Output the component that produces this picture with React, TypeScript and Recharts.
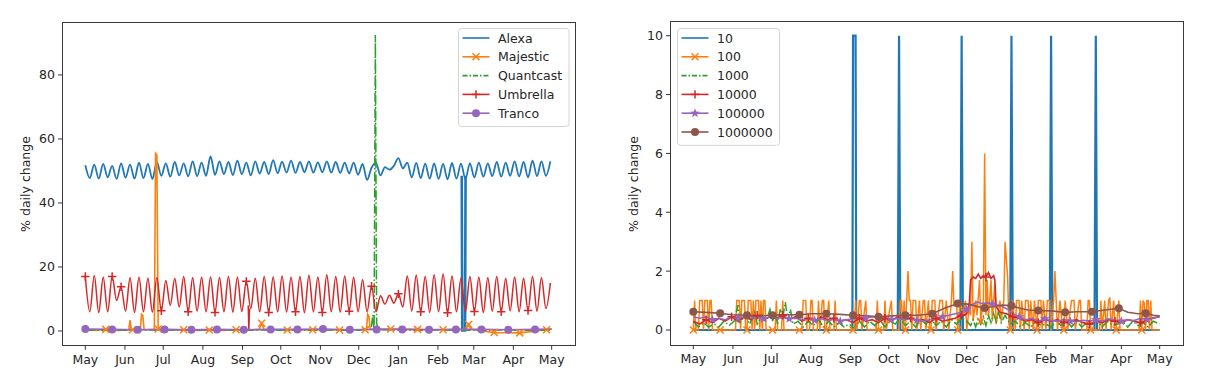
import React from 'react';
import { LineChart, Line, XAxis, YAxis } from 'recharts';

type Pair = [number, number];
type Pt = { day: number; v: number };
type Shape = 'x' | '+' | 'o' | '*';

// days counted from 1 May
const MONTH_DAYS = [0, 31, 61, 92, 123, 153, 184, 214, 245, 276, 304, 335, 365];
const MONTH_NAMES = ['May', 'Jun', 'Jul', 'Aug', 'Sep', 'Oct', 'Nov', 'Dec', 'Jan', 'Feb', 'Mar', 'Apr', 'May'];

const LEFT_TICKS = [0, 20, 40, 60, 80];
const RIGHT_TICKS = [0, 2, 4, 6, 8, 10];

const LEFT_NAMES = ['Alexa', 'Majestic', 'Quantcast', 'Umbrella', 'Tranco'];
const RIGHT_NAMES = ['10', '100', '1000', '10000', '100000', '1000000'];

// half-week sampling of the weekly Alexa / Umbrella cycles
const HALF_WEEK_DAYS = [
  0, 3.5, 7, 10.5, 14, 17.5, 21, 24.5, 28, 31.5, 35, 38.5, 42, 45.5, 49,
  52.5, 56, 59.5, 63, 66.5, 70, 73.5, 77, 80.5, 84, 87.5, 91, 94.5, 98, 101.5,
  105, 108.5, 112, 115.5, 119, 122.5, 126, 129.5, 133, 136.5, 140, 143.5, 147, 150.5, 154,
  157.5, 161, 164.5, 168, 171.5, 175, 178.5, 182, 185.5, 189, 192.5, 196, 199.5, 203, 206.5,
  210, 213.5, 217, 220.5, 224, 227.5, 231, 234.5, 238, 241.5, 245, 248.5, 252, 255.5, 259,
  262.5, 266, 269.5, 273, 276.5, 280, 283.5, 287, 290.5, 294, 297.5, 301, 304.5, 308, 311.5,
  315, 318.5, 322, 325.5, 329, 332.5, 336, 339.5, 343, 346.5, 350, 353.5, 357, 360.5, 364,
];

const ALEXA = [
  51.8, 47.8, 52, 47.6, 52.2, 48, 51.6, 47.5, 52.4, 47.9, 52, 47.6, 52.6, 47.8, 52.2,
  47.5, 52.8, 48.5, 52.4, 48.2, 52.8, 48.6, 52.4, 48.3, 53, 48.4, 52.6, 48.5, 54.6, 48.8,
  53, 49, 52.8, 48.7, 53.2, 49, 52.6, 48.6, 53, 49.2, 52.8, 49, 53.4, 49.3, 52.9,
  49.5, 53.2, 49.4, 52.8, 49.6, 53, 49.5, 52.7, 49.6, 53, 49.5, 52.8, 49.4, 52.6, 49.2,
  52.6, 48.8, 52.2, 47.2, 51, 52.5, 48.6, 51.2, 50.4, 51.6, 54, 50.8, 52.6, 48, 52.5,
  47.8, 52.3, 47.6, 52.4, 47.5, 52.2, 47.4, 52.5, 47.6, 52.3, 47.5, 52.4, 48, 52.6, 48.2,
  52.4, 48.4, 52.8, 48.2, 52.6, 48.5, 53, 48.3, 52.8, 48, 53.2, 48.4, 53, 48.5, 53,
];

const UMBRELLA = [
  17, 6, 17.3, 5.8, 16.8, 6, 17, 9.5, 13.8, 6.2, 16.6, 5.8, 16.8, 6, 16.5,
  5.9, 16.6, 6.3, 15.8, 8, 16.5, 7.5, 17, 6, 16.6, 6.2, 16.8, 6, 16.9, 5.8,
  16.7, 6, 17, 5.9, 16.8, 6.1, 15.5, 7, 16.5, 6, 17, 5.8, 16.9, 6, 17.2,
  5.9, 16.8, 6, 17, 5.7, 17.4, 6, 16.9, 5.8, 17.6, 6, 17, 5.9, 17.2, 6.2,
  16.8, 6, 16, 6, 14, 6, 11, 8.4, 11.2, 8.7, 11.6, 7.5, 17.2, 6.2, 17.5,
  6, 17, 5.8, 17.6, 6, 17.8, 5.7, 17.2, 6, 16.5, 6, 17, 6.1, 16.8, 5.8,
  16.6, 6.2, 17, 6, 16.4, 6.3, 16.9, 6, 16.5, 6.4, 17, 6.2, 16.6, 7, 15,
];

// short outages drawn on top of the weekly cycles
const ALEXA_OUTAGE: Pair[] = [[294.6, 48.5], [295, 0.2], [297.2, 0.2], [297.6, 48.5]];
const UMBRELLA_OUTAGE: Pair[] = [[127.5, 8], [128, 0.3], [128.5, 7]];

const MAJESTIC: Pair[] = [
  [0, 0.4], [8, 0.2], [16, 0.5], [25, 0.2], [34, 0.3], [35, 3.4], [36, 0.5], [37, 0.4],
  [43, 0.3], [44, 5.2], [45, 4.8], [46, 0.4], [54, 0.5], [55, 55.5], [56, 55], [57, 0.6],
  [66, 0.3], [77, 0.4], [88, 0.2], [97, 0.3], [108, 0.2], [118, 0.4], [130, 0.3], [136, 0.5],
  [138, 2.4], [140, 0.4], [158, 0.3], [178, 0.4], [199, 0.3], [214, 0.4], [219, 0.4], [220, 0.5],
  [221, 5.2], [222, 4.5], [223, 0.5], [239, 0.6], [260, 0.5], [280, 0.4], [298, 0.5], [300, 2],
  [302, 0.5], [320, -0.5], [340, -0.6], [361, 0.4], [365, 0.6],
];
const MAJESTIC_MARKS = [16, 37, 57, 77, 97, 118, 138, 158, 178, 199, 219, 239, 260, 280, 300, 320, 340, 361];

const QUANTCAST: Pair[] = [
  [0, 0.3], [20, 0.2], [45, 0.3], [70, 0.2], [95, 0.4], [120, 0.2], [140, 0.3], [165, 0.2],
  [190, 0.3], [215, 0.2], [224, 1.5], [225, 5], [226, 0.4], [227, 92.5], [228, 2.5], [229, 0.4],
  [250, 0.2], [275, 0.3], [300, 0.2], [325, 0.3], [345, 0.2], [365, 0.3],
];

const UMBRELLA_MARKS = [0, 21, 28, 59.5, 80.5, 101.5, 126, 143.5, 164.5, 185.5, 206.5, 224, 245, 262.5, 283.5, 304.5, 325.5, 346.5];

const TRANCO: Pair[] = [
  [0, 0.6], [21, 0.5], [41, 0.4], [62, 0.5], [83, 0.4], [103, 0.5], [124, 0.4], [145, 0.5],
  [166, 0.5], [186, 0.6], [207, 0.4], [228, 0.5], [248, 0.5], [269, 0.4], [290, 0.5], [310, 0.5],
  [331, 0.4], [352, 0.5], [365, 0.6],
];
const TRANCO_MARKS = [0, 21, 41, 62, 83, 103, 124, 145, 166, 186, 207, 228, 248, 269, 290, 310, 331, 352];

// right panel: list sizes
const TOP10: Pair[] = [
  [0, 0], [124.5, 0], [125, 10], [127, 10], [127.5, 0], [160, 0], [161, 10], [162, 0],
  [209, 0], [210, 10], [211, 0], [248, 0], [249, 10], [250, 0], [279, 0], [280, 10], [281, 0],
  [314, 0], [315, 10], [316, 0], [365, 0],
];

const TOP100: Pair[] = [
  [0, 0], [1, 1], [2, 0], [4, 0], [5, 1], [7, 1], [8, 0], [9, 1], [11, 1], [12, 0], [13, 1], [14, 1], [15, 0],
  [21, 0], [33, 0], [34, 1], [36, 1], [37, 0], [38, 1], [40, 1], [41, 0], [42, 0], [43, 1], [45, 1], [46, 0],
  [47, 1], [48, 0], [49, 1], [51, 1], [52, 0], [53, 1], [54, 0], [55, 1], [56, 1], [57, 0],
  [62, 0], [64, 0], [65, 1], [66, 0], [69, 0], [70, 1], [71, 0],
  [83, 0], [85, 0], [86, 1], [88, 1], [89, 0], [91, 0], [92, 1], [93, 1], [94, 0], [97, 0], [98, 1], [99, 0],
  [101, 1], [102, 1], [103, 0], [104, 0], [106, 1], [107, 0], [110, 0], [111, 1], [112, 0], [115, 0],
  [125, 0], [126, 0], [127, 1], [128, 0], [130, 1], [131, 1], [132, 0], [135, 1], [136, 0],
  [143, 0], [144, 1], [145, 0], [149, 0], [150, 1], [151, 0], [155, 1], [156, 0],
  [161, 0], [162, 1], [163, 1], [164, 0], [165, 1], [166, 0], [167, 1], [168, 2], [169, 1], [170, 1], [171, 0],
  [172, 1], [174, 1], [175, 0], [177, 1], [178, 0], [180, 1], [181, 1], [182, 0], [184, 1], [185, 0], [186, 0],
  [187, 1], [189, 1], [190, 0], [193, 1], [195, 1], [196, 0], [198, 1], [200, 0], [202, 1], [203, 2], [204, 0.8],
  [206, 1], [207, 0], [209, 1], [211, 0.5], [213, 1], [214, 0], [216, 0.8], [217, 0.5], [218, 3], [219, 0.3],
  [221, 1], [222, 0.5], [224, 1.7], [225, 0.3], [227, 1], [228, 6], [229, 0.5], [230, 1.7], [231, 0.4],
  [233, 1.7], [234, 0.3], [236, 1.6], [237, 0.2], [240, 1], [241, 0.3], [243, 1], [244, 3], [246, 1.8], [247, 0.2],
  [248, 0], [250, 1], [252, 0], [253, 1], [255, 1], [256, 0], [257, 1], [259, 0], [260, 1], [262, 1], [263, 0],
  [264, 1], [266, 0], [267, 1], [269, 0], [270, 1], [272, 1], [273, 0], [274, 1], [276, 0], [277, 1], [279, 1],
  [280, 0], [282, 1], [283, 2], [284, 1], [285, 0], [287, 1], [289, 0], [290, 0], [291, 1], [293, 0], [296, 1],
  [298, 1], [299, 0], [302, 1], [303, 1], [304, 0], [308, 0], [309, 1], [310, 1], [311, 0], [314, 0],
  [318, 0], [319, 1], [320, 0], [322, 1], [323, 0], [325, 1], [326, 1.1], [327, 0], [329, 1], [330, 0], [331, 0],
  [333, 1], [334, 0], [336, 0], [349, 0], [350, 1], [351, 0], [352, 1], [353, 0.9], [354, 0], [355, 1], [356, 1],
  [357, 0], [358, 1], [359, 0], [365, 0],
];
const TOP100_MARKS = [0, 21, 42, 62, 83, 104, 125, 145, 166, 186, 207, 225, 248, 269, 290, 311, 331, 351];

const TOP1000: Pair[] = [
  [0, 0.3], [4, 0.1], [8, 0.25], [12, 0.1], [16, 0.2], [20, 0.1], [24, 0.3], [28, 0.15], [32, 0.3], [35, 0.85],
  [36, 0.2], [40, 0.5], [44, 0.2], [48, 0.6], [50, 0.2], [54, 0.5], [57, 0.3], [60, 0.7], [62, 0.3], [64, 0.6],
  [66, 0.2], [68, 0.7], [70, 0.4], [72, 0.95], [74, 0.3], [76, 0.7], [78, 0.2], [82, 0.3], [86, 0.1], [90, 0.3],
  [94, 0.15], [98, 0.35], [102, 0.1], [106, 0.3], [110, 0.1], [114, 0.25], [118, 0.1], [122, 0.2], [126, 0.05],
  [130, 0.3], [134, 0.1], [138, 0.3], [142, 0.15], [146, 0.35], [150, 0.1], [154, 0.3], [158, 0.2], [162, 0.4],
  [166, 0.15], [170, 0.3], [174, 0.1], [178, 0.35], [182, 0.2], [186, 0.4], [190, 0.15], [194, 0.3], [198, 0.1],
  [202, 0.35], [206, 0.2], [210, 0.4], [214, 0.3], [217, 0.15], [219, 0.35], [221, 0.1], [223, 0.4], [225, 0.2],
  [227, 0.45], [229, 0.15], [231, 0.5], [233, 0.25], [235, 0.55], [237, 0.3], [239, 0.6], [241, 0.25], [244, 0.5],
  [248, 0.2], [252, 0.3], [256, 0.1], [260, 0.25], [264, 0.1], [268, 0.3], [272, 0.15], [276, 0.2], [280, 0.1],
  [284, 0.3], [288, 0.15], [292, 0.35], [296, 0.1], [300, 0.3], [304, 0.1], [308, 0.25], [312, 0.2], [316, 0.35],
  [320, 0.1], [324, 0.3], [328, 0.15], [332, 0.2], [336, 0.3], [340, 0.1], [344, 0.3], [348, 0.15], [352, 0.25],
  [356, 0.1], [360, 0.3], [365, 0.2],
];

const TOP10K: Pair[] = [
  [0, 0.3], [5, 0.2], [10, 0.35], [15, 0.25], [20, 0.4], [25, 0.3], [30, 0.45], [35, 0.3], [40, 0.45], [45, 0.35],
  [50, 0.5], [55, 0.35], [60, 0.45], [65, 0.4], [70, 0.5], [75, 0.35], [80, 0.45], [85, 0.3], [90, 0.4], [95, 0.3],
  [100, 0.45], [105, 0.35], [110, 0.4], [115, 0.3], [120, 0.35], [125, 0.25], [130, 0.4], [135, 0.3], [140, 0.35],
  [145, 0.25], [150, 0.4], [155, 0.3], [160, 0.45], [165, 0.35], [170, 0.4], [175, 0.3], [180, 0.35], [185, 0.25],
  [190, 0.4], [195, 0.3], [200, 0.35], [205, 0.4], [210, 0.5], [214, 0.55], [216, 0.9], [217, 1.7], [219, 1.8],
  [221, 1.75], [223, 1.9], [225, 1.75], [227, 1.85], [229, 1.8], [231, 1.95], [233, 1.75], [235, 1.85], [236, 1.7],
  [237, 0.8], [240, 0.6], [245, 0.55], [250, 0.45], [255, 0.4], [260, 0.3], [265, 0.35], [270, 0.25], [275, 0.35],
  [280, 0.3], [285, 0.35], [290, 0.25], [295, 0.3], [300, 0.35], [305, 0.25], [310, 0.2], [315, 0.3], [320, 0.25],
  [325, 0.35], [330, 0.3], [335, 0.25], [340, 0.35], [345, 0.3], [350, 0.25], [355, 0.35], [360, 0.4], [365, 0.45],
];
const TOP10K_MARKS = [10, 30, 50, 70, 90, 110, 130, 150, 170, 190, 210, 229, 250, 270, 290, 310, 330, 350];

const TOP100K: Pair[] = [
  [0, 0.45], [5, 0.4], [10, 0.45], [15, 0.35], [20, 0.4], [25, 0.35], [30, 0.45], [35, 0.4], [40, 0.45], [45, 0.4],
  [50, 0.42], [55, 0.38], [60, 0.45], [65, 0.4], [70, 0.42], [75, 0.38], [80, 0.4], [85, 0.35], [90, 0.38],
  [95, 0.33], [100, 0.38], [105, 0.32], [110, 0.36], [115, 0.3], [120, 0.35], [125, 0.38], [130, 0.42], [135, 0.4],
  [140, 0.45], [145, 0.42], [150, 0.4], [155, 0.36], [160, 0.4], [165, 0.35], [170, 0.38], [175, 0.33], [180, 0.3],
  [185, 0.35], [190, 0.4], [195, 0.45], [200, 0.5], [205, 0.55], [210, 0.6], [214, 0.7], [218, 0.85], [222, 0.95],
  [226, 0.9], [230, 0.92], [234, 0.88], [238, 0.85], [242, 0.8], [246, 0.7], [250, 0.55], [255, 0.45], [260, 0.35],
  [265, 0.4], [270, 0.3], [275, 0.38], [280, 0.32], [285, 0.3], [290, 0.35], [295, 0.3], [300, 0.28], [305, 0.33],
  [310, 0.3], [315, 0.35], [320, 0.3], [325, 0.38], [330, 0.33], [335, 0.3], [340, 0.35], [345, 0.32], [350, 0.4],
  [355, 0.35], [360, 0.42], [365, 0.45],
];
const TOP100K_MARKS = [15, 35, 55, 75, 95, 115, 135, 155, 175, 195, 214, 234, 255, 275, 295, 315, 335, 355];

const TOP1M: Pair[] = [
  [0, 0.62], [10, 0.6], [21, 0.57], [30, 0.52], [42, 0.5], [50, 0.48], [62, 0.5], [70, 0.52], [83, 0.52],
  [92, 0.55], [104, 0.55], [115, 0.53], [125, 0.5], [135, 0.48], [145, 0.45], [155, 0.48], [166, 0.5], [176, 0.5],
  [187, 0.55], [197, 0.75], [207, 0.9], [215, 0.88], [222, 0.8], [228, 0.75], [235, 0.8], [242, 0.85], [249, 0.82],
  [255, 0.75], [262, 0.68], [270, 0.66], [280, 0.65], [291, 0.6], [300, 0.62], [312, 0.62], [322, 0.68],
  [333, 0.74], [340, 0.6], [348, 0.55], [354, 0.57], [360, 0.5], [365, 0.48],
];
const TOP1M_MARKS = [0, 21, 42, 62, 83, 104, 125, 145, 166, 187, 207, 228, 249, 270, 291, 312, 333, 354];

const C = {
  blue: '#1f77b4',
  orange: '#ff7f0e',
  green: '#2ca02c',
  red: '#d62728',
  purple: '#9467bd',
  brown: '#8c564b',
};
const DASH_DOT = '9.6 2.4 1.5 2.4';
const FONT = 'DejaVu Sans, sans-serif';
const INK = '#262626';
const X_DOMAIN: [number, number] = [-18.25, 383.25];

const pairs = (list: Pair[]): Pt[] => list.map(([day, v]) => ({ day, v }));
const onGrid = (days: number[], vals: number[]): Pt[] => days.map((day, i) => ({ day, v: vals[i] }));

function Marker({ shape, x, y, color }: { shape: Shape; x: number; y: number; color: string }) {
  if (shape === 'o') return <circle cx={x} cy={y} r={4} fill={color} />;
  if (shape === 'x') {
    const h = 3.5;
    return (
      <g stroke={color} strokeWidth={1.5}>
        <line x1={x - h} y1={y - h} x2={x + h} y2={y + h} />
        <line x1={x - h} y1={y + h} x2={x + h} y2={y - h} />
      </g>
    );
  }
  if (shape === '+') {
    const h = 4.2;
    return (
      <g stroke={color} strokeWidth={1.5}>
        <line x1={x - h} y1={y} x2={x + h} y2={y} />
        <line x1={x} y1={y - h} x2={x} y2={y + h} />
      </g>
    );
  }
  const pts: string[] = [];
  for (let k = 0; k < 10; k++) {
    const r = k % 2 === 0 ? 5 : 2;
    const a = -Math.PI / 2 + (k * Math.PI) / 5;
    pts.push(`${x + r * Math.cos(a)},${y + r * Math.sin(a)}`);
  }
  return <polygon points={pts.join(' ')} fill={color} />;
}

const markDot = (shape: Shape, color: string, days: number[]) => (p: any) => {
  const key = `m-${p.index}`;
  if (p.cx == null || p.cy == null || !days.includes(p.payload?.day)) return <g key={key} />;
  return (
    <g key={key}>
      <Marker shape={shape} x={p.cx} y={p.cy} color={color} />
    </g>
  );
};

type LegendItem = { name: string; color: string; dash?: string; shape?: Shape };

function LegendBox({ left, top, width, items }: { left: number; top: number; width: number; items: LegendItem[] }) {
  const step = 18.8;
  const height = items.length * step + 4;
  return (
    <svg style={{ position: 'absolute', left, top }} width={width + 2} height={height + 2}>
      <rect x={0.5} y={0.5} width={width} height={height} rx={3} fill="rgba(255,255,255,0.85)" stroke="#d4d4d4" />
      {items.map((it, i) => {
        const y = 10 + i * step;
        return (
          <g key={it.name}>
            <line x1={4.5} x2={31.5} y1={y} y2={y} stroke={it.color} strokeWidth={1.6} strokeDasharray={it.dash} />
            {it.shape && <Marker shape={it.shape} x={18} y={y} color={it.color} />}
            <text x={40} y={y + 4.5} fontSize={12.5} fontFamily={FONT} fill={INK}>
              {it.name}
            </text>
          </g>
        );
      })}
    </svg>
  );
}

function Frame({ left, top, width, height }: { left: number; top: number; width: number; height: number }) {
  return (
    <div
      style={{
        position: 'absolute',
        left,
        top,
        width,
        height,
        border: '1px solid #3a3a3a',
        boxSizing: 'border-box',
        pointerEvents: 'none',
      }}
    />
  );
}

function YTitle({ x, y }: { x: number; y: number }) {
  return (
    <svg style={{ position: 'absolute', left: 0, top: 0 }} width={1218} height={378} pointerEvents="none">
      <text
        x={x}
        y={y}
        transform={`rotate(-90 ${x} ${y})`}
        textAnchor="middle"
        dominantBaseline="central"
        fontSize={12.5}
        fontFamily={FONT}
        fill={INK}
      >
        % daily change
      </text>
    </svg>
  );
}

const tickStyle = { fontSize: 12.5, fill: INK, fontFamily: FONT };
const monthLabel = (d: number) => MONTH_NAMES[MONTH_DAYS.indexOf(d)] ?? '';

function MonthAxis() {
  return (
    <XAxis
      dataKey="day"
      type="number"
      domain={X_DOMAIN}
      allowDataOverflow
      ticks={MONTH_DAYS}
      tickFormatter={monthLabel}
      interval={0}
      axisLine={false}
      tickLine={{ stroke: '#333' }}
      tickSize={4}
      tickMargin={5}
      height={30}
      tick={tickStyle}
    />
  );
}

const common = { dataKey: 'v', isAnimationActive: false, activeDot: false, legendType: 'none' as const };

export default function App() {
  const leftLegend: LegendItem[] = [
    { name: LEFT_NAMES[0], color: C.blue },
    { name: LEFT_NAMES[1], color: C.orange, shape: 'x' },
    { name: LEFT_NAMES[2], color: C.green, dash: '5 2 1.5 2' },
    { name: LEFT_NAMES[3], color: C.red, shape: '+' },
    { name: LEFT_NAMES[4], color: C.purple, shape: 'o' },
  ];
  const rightLegend: LegendItem[] = [
    { name: RIGHT_NAMES[0], color: C.blue },
    { name: RIGHT_NAMES[1], color: C.orange, shape: 'x' },
    { name: RIGHT_NAMES[2], color: C.green, dash: '5 2 1.5 2' },
    { name: RIGHT_NAMES[3], color: C.red, shape: '+' },
    { name: RIGHT_NAMES[4], color: C.purple, shape: '*' },
    { name: RIGHT_NAMES[5], color: C.brown, shape: 'o' },
  ];

  return (
    <div style={{ position: 'absolute', left: 0, top: 0, width: 1218, height: 378, background: '#fff', fontFamily: FONT }}>
      <div style={{ position: 'absolute', left: 0, top: 0 }}>
        <LineChart width={600} height={378} margin={{ top: 21.5, right: 25, bottom: 2.3, left: 12 }}>
          {MonthAxis()}
          <YAxis
            type="number"
            domain={[-4.6, 96.7]}
            allowDataOverflow
            ticks={LEFT_TICKS}
            interval={0}
            width={50}
            axisLine={false}
            tickLine={{ stroke: '#333' }}
            tickSize={4}
            tickMargin={3}
            tick={tickStyle}
          />
          <Line {...common} data={onGrid(HALF_WEEK_DAYS, ALEXA)} type="monotone" stroke={C.blue} strokeWidth={1.8} dot={false} />
          <Line {...common} data={pairs(ALEXA_OUTAGE)} type="linear" stroke={C.blue} strokeWidth={2.6} dot={false} />
          <Line {...common} data={pairs(MAJESTIC)} type="linear" stroke={C.orange} strokeWidth={1.6} dot={markDot('x', C.orange, MAJESTIC_MARKS)} />
          <Line {...common} data={pairs(QUANTCAST)} type="linear" stroke={C.green} strokeWidth={1.5} strokeDasharray={DASH_DOT} dot={false} />
          <Line {...common} data={onGrid(HALF_WEEK_DAYS, UMBRELLA)} type="monotone" stroke={C.red} strokeWidth={1.5} dot={markDot('+', C.red, UMBRELLA_MARKS)} />
          <Line {...common} data={pairs(UMBRELLA_OUTAGE)} type="linear" stroke={C.red} strokeWidth={1.5} dot={false} />
          <Line {...common} data={pairs(TRANCO)} type="linear" stroke={C.purple} strokeWidth={1.6} dot={markDot('o', C.purple, TRANCO_MARKS)} />
        </LineChart>
      </div>
      <Frame left={62} top={21.5} width={513.5} height={324.5} />
      <LegendBox left={457.5} top={27.5} width={110.5} items={leftLegend} />

      <div style={{ position: 'absolute', left: 600, top: 0 }}>
        <LineChart width={600} height={378} margin={{ top: 21, right: 17, bottom: 3, left: 12 }}>
          {MonthAxis()}
          <YAxis
            type="number"
            domain={[-0.51, 10.5]}
            allowDataOverflow
            ticks={RIGHT_TICKS}
            interval={0}
            width={58}
            axisLine={false}
            tickLine={{ stroke: '#333' }}
            tickSize={4}
            tickMargin={3}
            tick={tickStyle}
          />
          <Line {...common} data={pairs(TOP10)} type="linear" stroke={C.blue} strokeWidth={2.2} dot={false} />
          <Line {...common} data={pairs(TOP100)} type="linear" stroke={C.orange} strokeWidth={1.5} dot={markDot('x', C.orange, TOP100_MARKS)} />
          <Line {...common} data={pairs(TOP1000)} type="linear" stroke={C.green} strokeWidth={1.5} strokeDasharray={DASH_DOT} dot={false} />
          <Line {...common} data={pairs(TOP10K)} type="linear" stroke={C.red} strokeWidth={1.6} dot={markDot('+', C.red, TOP10K_MARKS)} />
          <Line {...common} data={pairs(TOP100K)} type="linear" stroke={C.purple} strokeWidth={1.6} dot={markDot('*', C.purple, TOP100K_MARKS)} />
          <Line {...common} data={pairs(TOP1M)} type="linear" stroke={C.brown} strokeWidth={1.6} dot={markDot('o', C.brown, TOP1M_MARKS)} />
        </LineChart>
      </div>
      <Frame left={670} top={21} width={513.5} height={324.5} />
      <LegendBox left={677} top={28} width={102} items={rightLegend} />

      <YTitle x={25} y={184} />
      <YTitle x={633} y={184} />
    </div>
  );
}
